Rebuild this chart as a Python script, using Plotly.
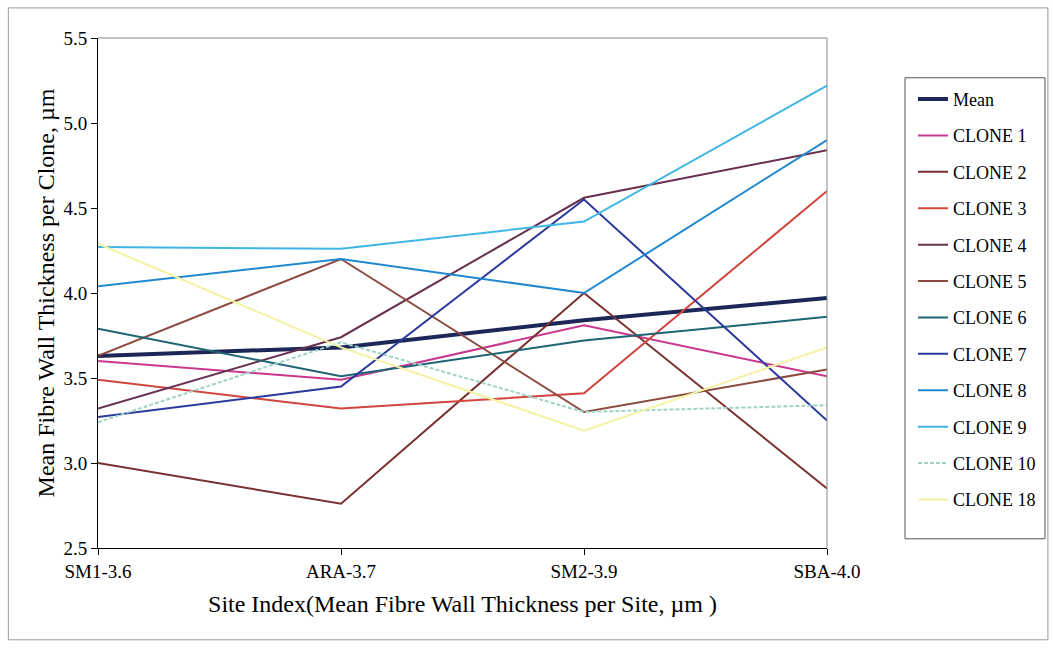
import plotly.graph_objects as go

# Sites on the x axis
sites = ["SM1-3.6", "ARA-3.7", "SM2-3.9", "SBA-4.0"]

# Mean fibre wall thickness (µm) per clone at each site
mean_all = [3.63, 3.68, 3.84, 3.97]
clone_1 = [3.60, 3.49, 3.81, 3.51]
clone_2 = [3.00, 2.76, 4.00, 2.85]
clone_3 = [3.49, 3.32, 3.41, 4.60]
clone_4 = [3.32, 3.74, 4.56, 4.84]
clone_5 = [3.63, 4.20, 3.30, 3.55]
clone_6 = [3.79, 3.51, 3.72, 3.86]
clone_7 = [3.27, 3.45, 4.55, 3.25]
clone_8 = [4.04, 4.20, 4.00, 4.90]
clone_9 = [4.27, 4.26, 4.42, 5.22]
clone_10 = [3.24, 3.71, 3.30, 3.34]
clone_18 = [4.29, 3.68, 3.19, 3.68]

y_ticks = [2.5, 3.0, 3.5, 4.0, 4.5, 5.0, 5.5]

series = [
    ("Mean", mean_all, "#1c2757", 4, "solid"),
    ("CLONE 1", clone_1, "#c8388f", 2, "solid"),
    ("CLONE 2", clone_2, "#7a3030", 2, "solid"),
    ("CLONE 3", clone_3, "#d0463f", 2, "solid"),
    ("CLONE 4", clone_4, "#68304e", 2, "solid"),
    ("CLONE 5", clone_5, "#8c4a3e", 2, "solid"),
    ("CLONE 6", clone_6, "#1d6474", 2, "solid"),
    ("CLONE 7", clone_7, "#2a3a9c", 2, "solid"),
    ("CLONE 8", clone_8, "#2188cf", 2, "solid"),
    ("CLONE 9", clone_9, "#3fb6e4", 2, "solid"),
    ("CLONE 10", clone_10, "#9fd3c8", 2, "4px,2px"),
    ("CLONE 18", clone_18, "#f3f2a2", 2, "solid"),
]

FONT = "Liberation Serif, Times New Roman, serif"

fig = go.Figure()
for i, (name, vals, color, width, dash) in enumerate(series):
    fig.add_trace(go.Scatter(
        x=sites, y=vals, name=name, mode="lines",
        line=dict(color=color, width=width, dash=dash),
        legendgroup=f"g{i}",
    ))

fig.update_layout(
    width=1053, height=655,
    margin=dict(l=98, r=226, t=38, b=107),
    paper_bgcolor="white", plot_bgcolor="white",
    font=dict(family=FONT, size=19, color="black"),
    showlegend=True,
    legend=dict(
        x=1.118, xanchor="left", y=0.916, yanchor="top",
        borderwidth=0, bgcolor="rgba(0,0,0,0)",
        font=dict(family=FONT, size=18, color="black"),
        tracegroupgap=10,
        itemwidth=30,
    ),
    xaxis=dict(
        type="category", range=[0, 3],
        showgrid=False, zeroline=False,
        showline=True, linecolor="black", linewidth=1,
        ticks="outside", ticklen=6, tickcolor="black",
        tickfont=dict(family=FONT, size=19),
        title=dict(text="Site Index(Mean Fibre Wall Thickness per Site, µm )",
                   font=dict(family=FONT, size=24), standoff=14),
    ),
    yaxis=dict(
        range=[2.5, 5.5], tickvals=y_ticks,
        ticktext=[f"{v:.1f}" for v in y_ticks],
        showgrid=False, zeroline=False,
        showline=True, linecolor="black", linewidth=1,
        ticks="outside", ticklen=6, tickcolor="black",
        tickfont=dict(family=FONT, size=19),
        title=dict(text="Mean Fibre Wall Thickness per Clone, µm",
                   font=dict(family=FONT, size=24), standoff=2),
    ),
    # second copy of the value axis: inner half of the crossing tick marks
    yaxis2=dict(
        overlaying="y", side="left", range=[2.5, 5.5], tickvals=y_ticks,
        showticklabels=False, showgrid=False, zeroline=False, showline=False,
        ticks="inside", ticklen=5, tickcolor="black",
    ),
    shapes=[
        # plot area frame (top and right edges)
        dict(type="line", xref="paper", yref="paper", x0=0, x1=1, y0=1, y1=1,
             line=dict(color="#888888", width=1)),
        dict(type="line", xref="paper", yref="paper", x0=1, x1=1, y0=0, y1=1,
             line=dict(color="#888888", width=1)),
        # legend frame
        dict(type="rect", xref="paper", yref="paper",
             x0=1.107, x1=1.299, y0=0.018, y1=0.922,
             line=dict(color="#555555", width=1)),
        # chart frame
        dict(type="rect", xref="paper", yref="paper",
             x0=-0.123, x1=1.303, y0=-0.180, y1=1.059,
             line=dict(color="#999999", width=1), layer="below"),
    ],
)

fig.write_html("out.html")
